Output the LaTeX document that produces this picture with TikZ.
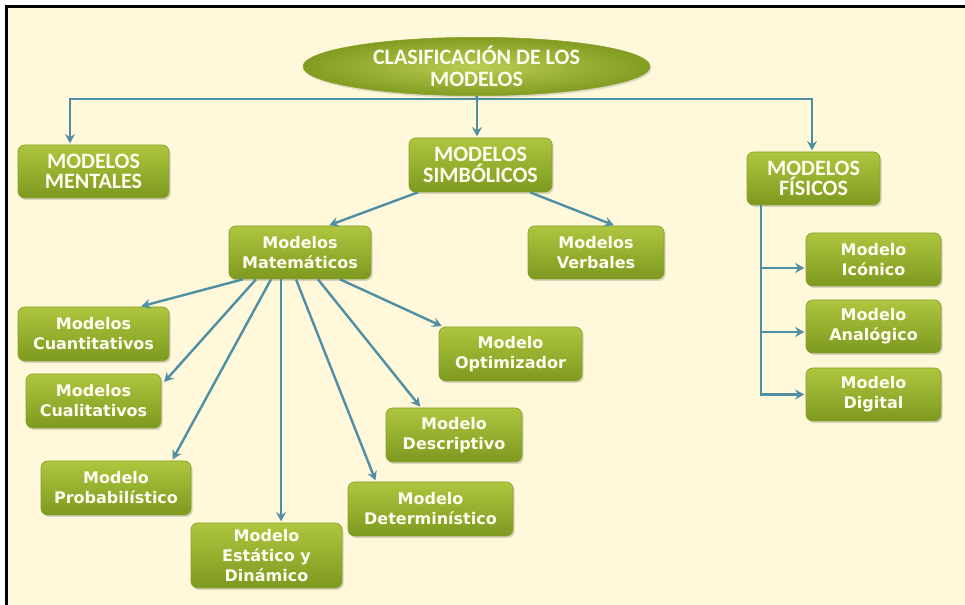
\documentclass[tikz,border=0pt]{standalone}
\usepackage{fontspec}
\setmainfont{DejaVu Sans}
\newfontfamily\capsfont{Carlito}
\usetikzlibrary{arrows.meta,calc,shadows,shapes.geometric}
\definecolor{bgcream}{HTML}{FFF8DA}
\definecolor{boxTop}{HTML}{AEC63F}
\definecolor{boxBot}{HTML}{7D991F}
\definecolor{boxEdge}{HTML}{88A12A}
\definecolor{lineC}{HTML}{4E8FA3}
\definecolor{ellIn}{HTML}{BACD52}
\definecolor{ellOut}{HTML}{829C22}
\definecolor{txtC}{HTML}{FFFDF0}
\begin{document}
\begin{tikzpicture}[x=0.75pt,y=-0.75pt,
  wh/.style 2 args={minimum width=#1*0.75pt, minimum height=#2*0.75pt},
  box/.style={rectangle, rounded corners=5pt, draw=boxEdge, line width=0.5pt,
    top color=boxTop, bottom color=boxBot,
    drop shadow={opacity=0.3, shadow xshift=1.2pt, shadow yshift=-1.5pt},
    text=txtC, align=center, inner sep=1pt},
  capsbox/.style={box, font=\capsfont\bfseries\fontsize{16.5}{15.5}\selectfont},
  lowbox/.style={box, font=\bfseries\fontsize{12}{15}\selectfont},
  conn/.style={draw=lineC, line width=1.8pt},
  arr/.style={conn, -{Stealth[length=7pt,width=7.5pt,inset=2.5pt]}, shorten >=1pt}
]
\useasboundingbox (0,0) rectangle (965,605);
\fill[white] (0,0) rectangle (965,605);
\fill[bgcream] (6,6) rectangle (965,605);
\draw[black, line width=1.6pt] (6.5,605) -- (6.5,6.5) -- (965,6.5);

% title ellipse
\node[ellipse, wh={347}{57}, inner sep=0pt, inner color=ellIn, outer color=ellOut,
  draw=boxEdge, line width=0.4pt,
  drop shadow={opacity=0.25, shadow xshift=1pt, shadow yshift=-1.5pt},
  text=txtC, align=center, font=\capsfont\bfseries\fontsize{16.5}{17}\selectfont]
  (clas) at (476.5,66.5) {CLASIFICACIÓN DE LOS\\MODELOS};

% level 1
\node[capsbox, wh={151}{53}] (mentales) at (93.5,171.5) {MODELOS\\MENTALES};
\node[capsbox, wh={143}{54}] (simb) at (480.5,165) {MODELOS\\SIMBÓLICOS};
\node[capsbox, wh={133}{53}] (fisicos) at (813.5,178.5) {MODELOS\\FÍSICOS};

% level 2
\node[lowbox, wh={142}{53}] (mate) at (300,252.5) {Modelos\\Matemáticos};
\node[lowbox, wh={136}{53}] (verbales) at (596,252.5) {Modelos\\Verbales};
\node[lowbox, wh={135}{53}] (iconico) at (873.5,259.5) {Modelo\\Icónico};
\node[lowbox, wh={135}{53}] (analogico) at (873.5,326.5) {Modelo\\Analógico};
\node[lowbox, wh={135}{53}] (digital) at (873.5,394.5) {Modelo\\Digital};

% level 3
\node[lowbox, wh={151}{54}] (cuanti) at (93.5,334) {Modelos\\Cuantitativos};
\node[lowbox, wh={135}{54}] (cuali) at (93.5,401) {Modelos\\Cualitativos};
\node[lowbox, wh={150}{54}] (proba) at (116,488) {Modelo\\Probabilístico};
\node[lowbox, wh={151}{65}] (estatico) at (266.5,555.5) {Modelo\\Estático y\\Dinámico};
\node[lowbox, wh={165}{54}] (determ) at (430.5,509) {Modelo\\Determinístico};
\node[lowbox, wh={136}{54}] (descrip) at (454,435) {Modelo\\Descriptivo};
\node[lowbox, wh={143}{54}] (optim) at (510.5,354) {Modelo\\Optimizador};

% top connectors
\coordinate (hL) at (70,99);
\coordinate (hM) at (477,99);
\coordinate (hR) at (812,99);
\draw[conn] (clas.south) -- (hM);
\draw[arr] (hM) -- (hL) -- (hL |- mentales.north);
\draw[arr] (hM) -- (hR) -- (hR |- fisicos.north);
\draw[arr] (hM) -- (hM |- simb.north);

% simbolicos
\draw[arr] ($(simb.south)+(-62.5,0)$) -- ($(mate.north)+(28,0)$);
\draw[arr] ($(simb.south)+(49.5,0)$) -- ($(verbales.north)+(19,0)$);

% matematicos fan
\draw[arr] ($(mate.south)+(-57,0)$) -- ($(cuanti.north)+(46.5,0)$);
\draw[arr] ($(mate.south)+(-44,0)$) -- ($(cuali.east)+(2,-18)$);
\draw[arr] ($(mate.south)+(-29,0)$) -- ($(proba.north)+(56,0)$);
\draw[arr] ($(mate.south)+(-19,0)$) -- ($(estatico.north)+(14.5,0)$);
\draw[arr] ($(mate.south)+(-4,0)$) -- ($(determ.north)+(-54.5,0)$);
\draw[arr] ($(mate.south)+(18,0)$) -- ($(descrip.north)+(-33,0)$);
\draw[arr] ($(mate.south)+(40,0)$) -- ($(optim.north)+(-67.5,0)$);

% fisicos branch
\coordinate (vtop) at ($(fisicos.south)+(-52.5,0)$);
\coordinate (ai) at ($(iconico.west)+(0,8.5)$);
\coordinate (aa) at ($(analogico.west)+(0,5.5)$);
\draw[arr] (vtop) |- (digital.west);
\draw[arr] (vtop |- ai) -- (ai);
\draw[arr] (vtop |- aa) -- (aa);
\end{tikzpicture}
\end{document}
